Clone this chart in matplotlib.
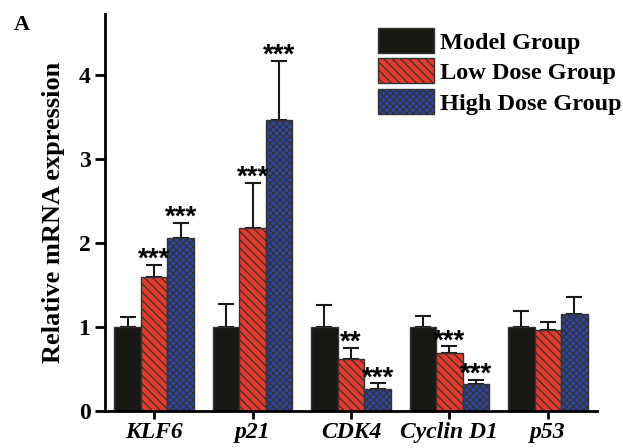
import numpy as np
import matplotlib.pyplot as plt

plt.rcParams['font.family'] = 'Liberation Serif'
plt.rcParams['font.weight'] = 'bold'
plt.rcParams['hatch.linewidth'] = 0.9

genes = ['KLF6', 'p21', 'CDK4', 'Cyclin D1', 'p53']
groups = ['Model Group', 'Low Dose Group', 'High Dose Group']
model = [1.0, 1.0, 1.0, 1.0, 1.0]
model_err = [0.12, 0.27, 0.26, 0.13, 0.19]
low = [1.60, 2.18, 0.62, 0.69, 0.97]
low_err = [0.14, 0.54, 0.13, 0.08, 0.09]
high = [2.06, 3.47, 0.265, 0.32, 1.16]
high_err = [0.18, 0.70, 0.065, 0.05, 0.20]
low_stars = ['***', '***', '**', '***', '']
high_stars = ['***', '***', '***', '***', '']

colors = ['#1a1812', '#e83a2c', '#2b44a6']
hatches = [None, '\\\\\\\\', 'xxxxx']

fig = plt.figure(figsize=(6.23, 4.48), dpi=100)
ax = fig.add_axes([105/623, 37/448, 492/623, 397/448])

x = np.arange(len(genes))
w = 0.27
vals = [model, low, high]
errs = [model_err, low_err, high_err]
for i in range(3):
    ax.bar(x + (i - 1) * w, vals[i], w, color=colors[i], hatch=hatches[i],
           edgecolor='#333333', linewidth=1.0, label=groups[i], zorder=2)
    ax.errorbar(x + (i - 1) * w, vals[i], yerr=[np.zeros(5), errs[i]], fmt='none',
                ecolor='#1a1a1a', elinewidth=1.5, capsize=6, capthick=1.5, zorder=1)

for j in range(len(genes)):
    if low_stars[j]:
        ax.text(x[j], low[j] + low_err[j] + 0.06, low_stars[j], ha='center', va='center',
                fontsize=20, family='Liberation Sans', fontweight='bold')
    if high_stars[j]:
        ax.text(x[j] + w, high[j] + high_err[j] + 0.06, high_stars[j], ha='center', va='center',
                fontsize=20, family='Liberation Sans', fontweight='bold')

ax.set_xlim(-0.5, 4.5)
ax.set_ylim(0, 4.73)
ax.set_yticks([0, 1, 2, 3, 4])
ax.set_xticks(x)
ax.set_xticklabels(genes, fontstyle='italic', fontsize=17, fontweight='bold')
ax.tick_params(axis='y', labelsize=17, width=2, length=7)
ax.tick_params(axis='x', width=2, length=6, pad=2)
ax.spines['top'].set_visible(False)
ax.spines['right'].set_visible(False)
ax.spines['left'].set_linewidth(2)
ax.spines['bottom'].set_linewidth(2)
ax.set_ylabel('Relative mRNA expression', fontsize=19, fontweight='bold', labelpad=10)

ax.legend(loc='upper left', bbox_to_anchor=(0.555, 0.965), frameon=False, fontsize=17.5,
          handlelength=2.3, handleheight=1.2, labelspacing=0.2, handletextpad=0.25,
          borderaxespad=0, borderpad=0)

fig.text(14/623, 1 - 25/448, 'A', fontsize=16, fontweight='bold', va='center')

fig.savefig('out.png', dpi=100)
